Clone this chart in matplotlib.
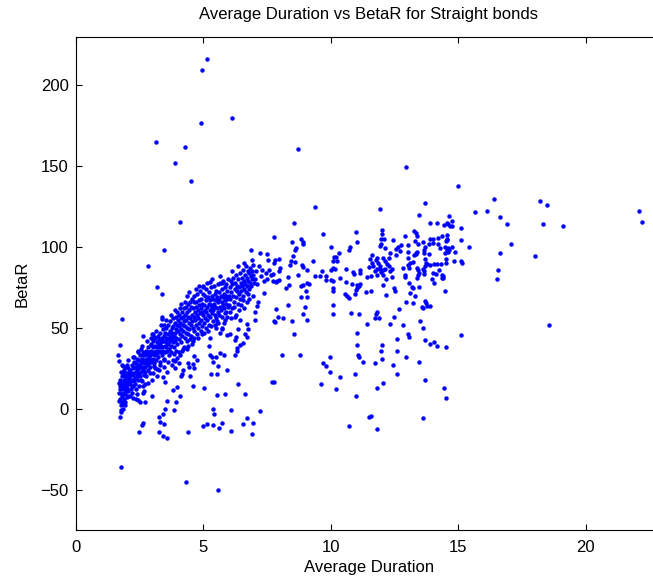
import numpy as np
import matplotlib
matplotlib.use("Agg")
import matplotlib.pyplot as plt

# --- data (x = average duration, y = BetaR) ---
outliers = [
    (5.15, 216), (4.97, 209.3), (6.14, 180), (4.93, 176.7), (8.73, 160.6),
    (3.16, 164.7), (3.9, 152), (4.3, 162), (4.52, 141), (12.96, 149.5),
    (15.0, 137.7), (16.4, 129.9), (18.2, 128.2), (18.5, 126.2), (16.13, 122.2),
    (22.09, 122.4), (22.2, 115.5), (9.38, 124.5), (11.93, 123.5), (13.69, 127.0),
    (4.1, 115.2), (1.78, -35.8), (4.32, -45.5), (5.59, -50.4),
]

upper_mid = [
    (8.56, 114.8), (7.78, 106.4), (8.82, 105), (9.72, 108), (10.99, 109),
    (12.02, 110.5), (12.0, 108), (11.97, 105), (12.1, 105),
    (13.46, 119.5), (13.89, 115.0), (14.16, 114.8),
    (12.43, 104.1), (11.03, 102.8), (12.93, 106.7), (13.27, 109.8), (13.33, 108.8),
    (13.37, 106.7), (13.32, 103.6), (13.41, 101.8), (13.38, 96.8), (13.35, 96.2),
    (13.63, 103), (13.66, 98.1), (13.66, 96.4), (13.72, 100.1), (13.89, 105.1),
    (14.02, 105.1), (14.02, 102.6), (13.87, 101.6), (13.84, 95.4), (14.21, 105.5),
    (14.22, 102), (13.76, 90.2), (13.04, 97.2), (12.56, 95),
    (8.5, 103.2), (8.64, 99.5), (8.6, 98.1), (8.91, 103.2), (8.93, 101.8),
    (10.01, 99.9), (10.76, 99.9), (10.72, 98.1), (11.96, 101.6), (11.93, 100.6),
    (12.13, 99.1), (12.56, 98.5), (12.63, 100.1), (12.76, 101), (12.72, 97.5),
    (13.04, 101),
    (7.8, 91.7), (7.97, 92.3), (8.51, 94.4), (8.46, 91.5), (8.59, 90.6),
    (8.86, 89), (8.93, 87.8), (9.29, 91.3), (8.4, 88.8), (8.01, 86.9),
    (7.96, 85.1), (7.75, 83.6), (7.88, 79.1), (7.84, 78.1), (7.97, 79.3),
    (8.34, 81.4), (8.73, 82.6), (9.08, 85.9), (8.93, 76.2), (8.82, 75.8),
    (9.06, 77.9), (9.15, 77.4), (8.25, 74.8), (8.37, 76.2), (9.38, 81.8),
    (9.58, 81.8), (9.65, 85.1), (9.82, 82.2), (9.8, 79.5), (10.01, 85.9),
    (10.1, 86.9), (10.17, 86.5), (10.1, 91.3), (10.23, 91.3), (10.13, 94),
    (10.21, 94), (10.0, 79.9), (10.11, 78.9), (10.37, 80.7), (10.31, 96.4),
    (10.09, 74.8), (10.1, 72.7), (10.59, 86.1), (10.89, 84.7), (10.9, 83.2),
    (11.15, 85.7), (11.16, 84.0), (10.61, 78.5), (10.85, 77.4), (11.05, 76.8),
    (11.15, 77.4), (11.1, 75.8), (11.05, 74.8), (10.99, 73.3), (10.56, 71.0),
    (10.65, 69.6), (10.73, 68.6), (10.94, 71), (11.41, 81.4), (11.57, 82),
    (11.37, 72.1), (11.57, 72.5), (11.61, 95), (11.54, 92.3), (11.62, 90.2),
    (11.67, 88.2), (11.52, 87.8), (11.78, 91.7), (11.8, 93.1), (11.86, 90.2),
    (11.93, 88), (11.83, 86.5), (11.74, 85.1), (11.8, 82.4), (11.93, 86.1),
    (12.04, 85.7), (12.13, 86.5), (11.97, 84.7), (12.04, 83.0), (12.06, 92.9),
    (12.14, 91.1), (12.2, 89.4), (12.27, 88.0), (12.27, 93.3), (12.32, 96),
    (12.33, 85.1), (12.17, 80.3), (12.06, 76.6), (12.16, 70.4), (12.39, 86.1),
    (12.39, 81.6), (12.48, 74.8), (12.52, 72.9), (12.85, 87.1), (12.91, 83),
    (12.91, 81.6), (13.02, 93.3), (13.04, 88.6), (13.08, 87.1), (13.11, 90.4),
    (13.23, 90.6), (13.28, 95.2), (13.33, 95.6), (13.37, 87.3), (13.42, 85.7),
    (13.46, 83.8), (13.42, 82.8), (13.38, 80.7), (13.07, 77.9), (13.1, 71.3),
    (13.18, 75.4), (13.24, 74.8), (13.32, 69.8), (13.46, 75.4), (13.61, 86.5),
    (13.65, 83.2), (13.7, 92.3), (13.7, 88.2), (13.67, 85.1), (13.78, 89.6),
    (13.89, 88.6), (14.05, 89.2), (13.96, 80.3), (14.02, 84.0), (14.13, 83.6),
    (14.18, 89.4), (14.26, 85.5), (14.06, 77.9), (13.72, 66.5), (13.76, 65.1),
    (13.79, 63.8), (13.63, 62.2), (13.58, 62.8), (13.91, 63.4), (13.24, 65.1),
]

lower_mid = [
    (7.86, 61.4), (7.93, 57), (7.82, 53.9), (8.14, 56), (8.33, 64.0),
    (8.48, 54.1), (8.99, 62.8), (8.9, 58.7), (9.06, 54.7), (8.82, 69.2),
    (9.08, 68.8), (9.03, 73.1), (10.1, 64.4), (10.1, 58.3), (10.8, 59.1),
    (11.11, 58.3), (11.44, 52.7), (11.74, 56.2), (11.83, 59.7), (11.78, 58.3),
    (11.88, 55.8), (12.31, 52.5), (12.5, 56.6), (12.69, 61.4), (12.85, 51.7),
    (12.94, 65.7), (13.49, 54.1), (13.61, 50.0), (13.03, 45.9), (13.06, 44.2),
    (12.59, 43.0), (12.59, 35.8), (12.94, 32.1), (13.46, 29.2), (13.71, 42.4),
    (13.89, 39.9), (14.06, 41.1), (14.16, 38.5), (13.69, 17.6), (13.63, -5.9),
    (12.01, 39.7), (11.96, 35.4), (12.01, 31.0), (12.44, 27.3), (12.59, 21.7),
    (12.05, 15.8), (11.83, 13.1), (11.75, 28.1), (11.82, -12.7), (11.52, -5.1),
    (11.58, -4.7), (10.72, -10.8), (10.99, 7.7), (10.97, 21.3), (11.06, 33.5),
    (11.1, 31.9), (11.25, 29.0), (11.02, 39.1), (11.05, 46.7), (10.37, 19.9),
    (10.22, 12.3), (9.97, 22.6), (9.97, 31.9), (9.71, 28.4), (9.8, 26.3),
    (9.61, 15.1), (8.78, 33.3), (8.09, 33.1), (8.55, 46.1), (7.78, 16.8),
    (14.43, 12.9), (14.51, 6.5),
]

right_side = [
    (14.63, 119), (14.43, 113.8), (14.55, 115), (14.6, 114.4), (14.77, 115.8),
    (14.7, 112.9), (14.77, 112.7), (15.11, 111.5), (14.35, 106.6), (14.55, 107.4),
    (14.55, 105.1), (14.57, 104.1), (14.52, 103.5), (15.11, 104.1), (17.07, 102),
    (15.42, 99.8), (14.29, 99.6), (14.48, 99.9), (14.61, 99.6), (14.75, 99.8),
    (14.55, 98.1), (14.65, 98.1), (14.87, 96.7), (14.48, 96.0), (14.61, 96.7),
    (16.65, 96.5), (18.0, 94.6), (14.51, 92.5), (14.85, 91.5), (14.51, 90.3),
    (15.1, 91.5), (15.16, 90.0), (14.31, 89.7), (16.57, 85.5), (16.52, 80),
    (14.35, 83), (14.42, 82), (14.42, 80.8), (14.35, 81), (14.49, 72.5),
    (18.57, 51.7), (15.11, 45.3), (14.52, 38.3), (15.66, 121.4), (16.65, 118.3),
    (16.93, 114.4), (18.31, 114), (19.12, 112.7),
]

low_left = [
    (3.46, 98.1), (2.85, 88.2), (6.86, 98.1), (7.21, 96.5), (7.49, 95.4),
    (7.55, 91.9), (7.78, 89.9), (3.18, 75.2), (3.37, 70.7), (1.8, 55.6),
    (1.74, 39.5), (1.67, 33.3), (1.71, 29.4), (1.8, 27.3), (1.87, 26.7),
    (2.65, 44.9), (3.4, 56.8), (3.4, 55.6), (3.01, 45.9), (3.06, 44.5),
    (3.46, 51.5), (2.46, 35.6), (2.85, 35), (2.95, 39.1), (5.27, 78.3),
    (4.98, 75.4), (4.98, 70.7), (4.64, 65.9), (3.96, 59.7), (7.78, 54.2),
    (7.03, 54.6), (7.03, 59.9), (7.1, 63.4), (7.14, 65.9), (7.4, 71.7),
    (6.73, 52.1), (6.77, 49), (6.38, 49), (6.27, 44.3), (6.26, 42.4),
    (6.64, 46.5), (6.71, 44.3), (6.55, 40.8), (6.46, 39.1), (6.25, 33.3),
    (5.33, 31.9), (5.4, 28.8), (5.57, 26.7), (5.66, 34.2), (5.82, 33.5),
    (5.74, 49.4), (5.92, 45.7), (5.22, 38.7), (5.31, 21.2), (5.53, 21.2),
    (4.42, 28.4), (4.64, 25.3), (4.48, 20.1), (4.61, 13.9), (4.13, 20.1),
    (4.22, 23.8), (5.05, 12.9), (5.95, 23.8), (6.38, 15), (6.64, 8.8),
    (5.55, 8.6), (5.86, 9.2), (7.23, -1.5), (7.71, 16.4), (5.4, -0.1),
    (5.41, -3), (6.09, -0.9), (6.73, -5.7), (6.97, -8.8), (6.58, -9.2),
    (6.9, -15.4), (6.09, -13.5), (5.72, -8.8), (5.61, -11.8), (5.4, -10.2),
    (5.14, -9.4), (5.0, -10.8), (4.42, -14.5), (3.99, 13.5), (3.8, 11.5),
    (3.57, 4.7), (4.09, 8.0), (3.93, 4.0), (3.84, -0.9), (3.5, -0.1),
    (3.44, -3), (3.27, -5.0), (3.31, -8.1), (3.48, -9.4), (3.28, -14.1),
    (3.44, -17), (3.57, -18), (2.65, -8.8), (2.61, -10.2), (2.48, -14.5),
    (2.72, 4.3), (2.46, 5.1), (2.52, 4.0), (2.26, 6.7), (2.98, 7.8),
    (2.65, 9.8), (2.69, 10.8), (2.39, 9.4), (2.2, 14), (2.63, 14),
    (2.98, 17.7), (3.18, 20.1), (3.5, 16.4), (3.44, 19.7), (3.58, 22.6),
    (3.76, 27.3), (3.9, 29.8), (3.96, 31.5), (4.09, 33.5), (4.18, 35.6),
    (4.35, 37.0), (4.65, 32.5), (4.6, 27.8), (4.16, 21.2), (3.08, 26.7),
    (5.0, 75.8), (5.72, 77.5), (3.04, 45.9), (3.08, 43.2), (5.27, 33.5),
    (5.5, 32.1), (4.74, 30.4), (4.45, 25.9), (4.06, 28.4), (3.89, 25.3),
    (3.17, 24.3), (6.05, 45.9), (6.31, 37.7), (6.34, 35.6), (5.66, 47),
]

# dense band of short-duration bonds
band_a = [
    (1.70, 10), (1.72, 14), (1.74, 18), (1.75, 6), (1.76, 2), (1.77, -2),
    (1.78, 12), (1.80, 16), (1.81, 20), (1.82, 8), (1.83, 4), (1.84, 0),
    (1.85, 22), (1.86, 14), (1.87, 10), (1.88, 18), (1.89, 24), (1.90, 6),
    (1.91, 12), (1.92, 16), (1.93, 20), (1.94, 2), (1.95, 9), (1.96, 14),
    (1.97, 18), (1.98, 22), (1.99, 11), (2.00, 15), (2.01, 19), (2.02, 7),
    (2.03, 13), (2.04, 17), (2.05, 21), (2.06, 25), (2.07, 11), (2.08, 15),
    (2.09, 19), (2.10, 23), (1.73, -5), (1.79, -1), (1.71, 5), (1.76, 23),
    (1.92, 26), (2.0, 27), (1.84, 3), (1.95, 4), (2.06, 8), (1.69, 16),
    (1.74, 12), (1.8, 9),
]
band_b = [
    (2.12, 20), (2.14, 16), (2.15, 24), (2.17, 12), (2.18, 22), (2.20, 18),
    (2.21, 27), (2.23, 14), (2.24, 21), (2.25, 25), (2.27, 17), (2.28, 29),
    (2.30, 22), (2.31, 19), (2.33, 26), (2.34, 15), (2.36, 23), (2.37, 28),
    (2.39, 20), (2.40, 31), (2.42, 24), (2.43, 18), (2.45, 27), (2.46, 22),
    (2.48, 30), (2.49, 25), (2.51, 20), (2.52, 33), (2.54, 27), (2.55, 23),
    (2.57, 29), (2.58, 18), (2.60, 26), (2.61, 31), (2.63, 24), (2.64, 35),
    (2.66, 28), (2.67, 21), (2.69, 30), (2.70, 26), (2.72, 33), (2.73, 23),
    (2.75, 29), (2.76, 36), (2.78, 31), (2.79, 27), (2.81, 34), (2.82, 24),
    (2.84, 30), (2.85, 38), (2.87, 32), (2.88, 28), (2.90, 35), (2.91, 26),
    (2.93, 33), (2.94, 40), (2.96, 30), (2.97, 36), (2.99, 29), (3.00, 34),
    (2.22, 10), (2.35, 12), (2.5, 14), (2.62, 17), (2.77, 20), (2.9, 22),
    (2.3, 32), (2.45, 35), (2.6, 39), (2.8, 42),
    (2.05, 30), (2.15, 8), (2.25, 32), (2.35, 6), (2.55, 37), (2.7, 15),
    (2.85, 16), (2.95, 44), (2.4, 26), (2.65, 33),
]
band_c = [
    (3.02, 38), (3.04, 31), (3.05, 42), (3.07, 35), (3.08, 28), (3.10, 39),
    (3.11, 33), (3.13, 44), (3.14, 36), (3.16, 30), (3.17, 41), (3.19, 34),
    (3.20, 38), (3.22, 45), (3.23, 32), (3.25, 40), (3.26, 36), (3.28, 43),
    (3.29, 29), (3.31, 38), (3.32, 47), (3.34, 35), (3.35, 41), (3.37, 33),
    (3.38, 44), (3.40, 38), (3.41, 49), (3.43, 36), (3.44, 42), (3.46, 31),
    (3.47, 45), (3.49, 39), (3.50, 35), (3.52, 47), (3.53, 41), (3.55, 38),
    (3.56, 50), (3.58, 43), (3.59, 36), (3.61, 46), (3.62, 40), (3.64, 52),
    (3.65, 44), (3.67, 37), (3.68, 48), (3.70, 42), (3.71, 54), (3.73, 45),
    (3.74, 39), (3.76, 50), (3.77, 43), (3.79, 47), (3.80, 56), (3.82, 41),
    (3.83, 51), (3.85, 45), (3.86, 38), (3.88, 53), (3.89, 47), (3.91, 42),
    (3.92, 57), (3.94, 49), (3.95, 44), (3.97, 52), (3.98, 40), (3.12, 25),
    (3.3, 27), (3.48, 30), (3.65, 33), (3.85, 34),
    (3.05, 22), (3.15, 48), (3.25, 24), (3.35, 52), (3.45, 26), (3.55, 55),
    (3.62, 29), (3.72, 58), (3.82, 30), (3.9, 61), (3.35, 39), (3.55, 44),
    (3.75, 35), (3.95, 36),
]
band_d = [
    (4.01, 48), (4.03, 55), (4.04, 43), (4.06, 51), (4.07, 58), (4.09, 46),
    (4.10, 53), (4.12, 41), (4.13, 56), (4.15, 49), (4.16, 60), (4.18, 45),
    (4.19, 52), (4.21, 57), (4.22, 48), (4.24, 62), (4.25, 54), (4.27, 44),
    (4.28, 58), (4.30, 51), (4.31, 63), (4.33, 47), (4.34, 55), (4.36, 60),
    (4.37, 50), (4.39, 65), (4.40, 57), (4.42, 46), (4.43, 53), (4.45, 61),
    (4.46, 49), (4.48, 66), (4.49, 56), (4.51, 52), (4.52, 63), (4.54, 45),
    (4.55, 58), (4.57, 68), (4.58, 54), (4.60, 50), (4.61, 62), (4.63, 57),
    (4.64, 70), (4.66, 48), (4.67, 60), (4.69, 55), (4.70, 66), (4.72, 52),
    (4.73, 63), (4.75, 58), (4.76, 71), (4.78, 50), (4.79, 61), (4.81, 56),
    (4.82, 67), (4.84, 53), (4.85, 64), (4.87, 59), (4.88, 73), (4.90, 55),
    (4.91, 62), (4.93, 68), (4.94, 51), (4.96, 60), (4.97, 65), (4.2, 37),
    (4.4, 39), (4.6, 42), (4.8, 44), (4.35, 70), (4.95, 46),
    (4.05, 35), (4.15, 65), (4.25, 38), (4.35, 42), (4.45, 72), (4.55, 40),
    (4.65, 44), (4.75, 46), (4.85, 76), (4.92, 48), (4.1, 62), (4.3, 66),
    (4.5, 43), (4.7, 74),
]
band_e = [
    (5.01, 58), (5.03, 64), (5.04, 53), (5.06, 70), (5.07, 61), (5.09, 56),
    (5.10, 67), (5.12, 60), (5.13, 74), (5.15, 55), (5.16, 63), (5.18, 69),
    (5.19, 58), (5.21, 65), (5.22, 52), (5.24, 72), (5.25, 61), (5.27, 67),
    (5.28, 57), (5.30, 64), (5.31, 75), (5.33, 59), (5.34, 70), (5.36, 63),
    (5.37, 54), (5.39, 68), (5.40, 61), (5.42, 76), (5.43, 65), (5.45, 58),
    (5.46, 71), (5.48, 63), (5.49, 67), (5.51, 56), (5.52, 73), (5.54, 62),
    (5.55, 69), (5.57, 77), (5.58, 60), (5.60, 66), (5.61, 72), (5.63, 58),
    (5.64, 68), (5.66, 63), (5.67, 78), (5.69, 70), (5.70, 61), (5.72, 66),
    (5.73, 74), (5.75, 57), (5.76, 69), (5.78, 64), (5.79, 79), (5.81, 71),
    (5.82, 62), (5.84, 67), (5.85, 75), (5.87, 59), (5.88, 70), (5.90, 65),
    (5.91, 77), (5.93, 68), (5.94, 73), (5.96, 63), (5.98, 80), (5.2, 48),
    (5.5, 50), (5.8, 53),
    (5.05, 47), (5.15, 78), (5.25, 44), (5.35, 80), (5.45, 52), (5.55, 54),
    (5.65, 82), (5.75, 50), (5.85, 55), (5.95, 57), (5.1, 50), (5.3, 51),
    (5.6, 53), (5.9, 60),
]
band_f = [
    (6.01, 70), (6.03, 64), (6.05, 75), (6.07, 68), (6.09, 79), (6.11, 72),
    (6.13, 62), (6.15, 77), (6.17, 70), (6.19, 81), (6.21, 66), (6.23, 74),
    (6.25, 78), (6.27, 69), (6.29, 83), (6.31, 73), (6.33, 76), (6.35, 65),
    (6.37, 80), (6.39, 71), (6.41, 75), (6.43, 84), (6.45, 68), (6.47, 78),
    (6.49, 73), (6.51, 81), (6.53, 76), (6.55, 86), (6.57, 70), (6.59, 79),
    (6.61, 74), (6.63, 83), (6.65, 77), (6.67, 88), (6.69, 72), (6.71, 81),
    (6.73, 76), (6.75, 85), (6.77, 79), (6.79, 74), (6.81, 84), (6.83, 78),
    (6.85, 87), (6.87, 82), (6.89, 76), (6.91, 85), (6.93, 80), (6.95, 89),
    (6.97, 83), (6.99, 78), (6.3, 58), (6.6, 62), (6.1, 56), (6.45, 55),
    (6.05, 60), (6.15, 85), (6.25, 57), (6.35, 88), (6.5, 64), (6.6, 90),
    (6.7, 66), (6.8, 68), (6.9, 92), (6.95, 70), (6.2, 63), (6.4, 61),
    (6.75, 71), (6.55, 67),
]
band_g = [
    (7.03, 80), (7.08, 85), (7.12, 77), (7.18, 88), (7.25, 82), (7.3, 86),
    (7.38, 79), (7.45, 84), (7.52, 80), (7.6, 86), (7.68, 83), (7.75, 79),
]

groups = [outliers, upper_mid, lower_mid, right_side, low_left,
          band_a, band_b, band_c, band_d, band_e, band_f, band_g]
points = np.array([p for g in groups for p in g])
duration = points[:, 0]
beta_r = points[:, 1]

plt.rcParams['font.family'] = ['Liberation Sans', 'DejaVu Sans']

fig = plt.figure(figsize=(6.53, 5.83), dpi=100)
ax = fig.add_axes([0.1159, 0.0909, 0.898, 0.846])

ax.plot(duration, beta_r, 'o', color='#0000ff', markersize=3.2, markeredgewidth=0)

ax.set_xlim(0, 23)
ax.set_ylim(-75, 230)
ax.set_xticks([0, 5, 10, 15, 20])
ax.set_yticks([-50, 0, 50, 100, 150, 200])
ax.tick_params(direction='in', length=4.3, width=0.8, labelsize=12,
               top=True, right=False)
ax.tick_params(axis='x', pad=7)
ax.tick_params(axis='y', pad=5)
for side in ['left', 'bottom', 'top']:
    ax.spines[side].set_linewidth(0.8)
ax.spines['right'].set_visible(False)

ax.set_title("Average Duration vs BetaR for Straight bonds", fontsize=12, pad=13)
ax.set_xlabel("Average Duration", fontsize=12, labelpad=4)
ax.set_ylabel("BetaR", fontsize=12, labelpad=8)

fig.savefig("out.png", dpi=100)
